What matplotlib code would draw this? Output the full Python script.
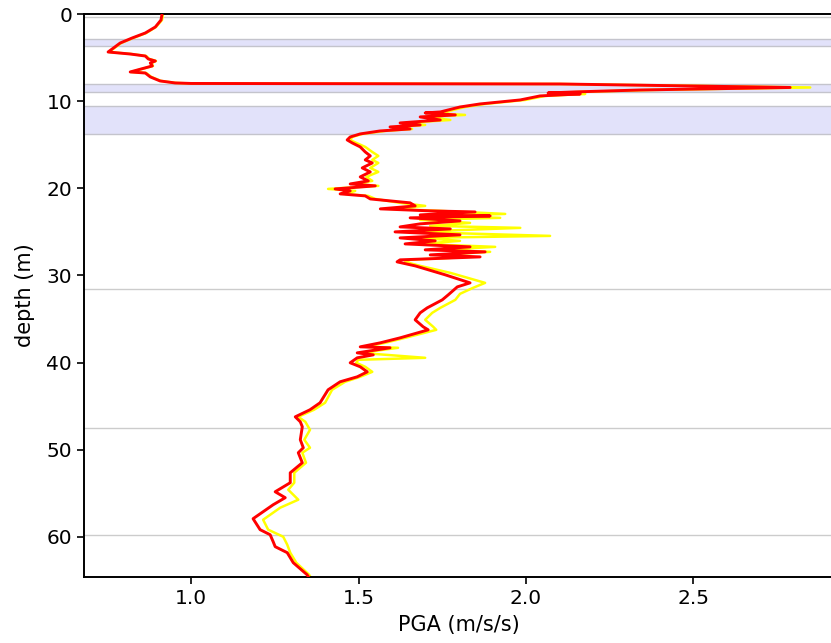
import matplotlib
matplotlib.use("Agg")
import matplotlib.pyplot as plt

# ---- data ----
depth_red = [0.0, 0.69, 1.49, 2.18, 2.75, 3.33, 4.01, 4.36, 4.59, 4.82, 5.16, 5.39, 5.62, 5.96,
             6.65, 6.77, 7.22, 7.68, 7.91, 7.97, 8.03, 8.43, 8.72, 8.94, 9.06, 9.17, 9.40, 9.86,
             10.32, 10.67, 11.24, 11.35, 11.58, 11.81, 12.16, 12.50, 12.73, 12.96, 13.19, 13.42,
             13.76, 14.11, 14.45, 14.79, 15.25, 15.83, 16.28, 16.74, 17.09, 17.66, 18.12, 18.69,
             19.15, 19.50, 19.72, 20.07, 20.30, 20.64, 20.87, 21.22, 21.67, 22.02, 22.36, 22.59,
             22.71, 23.05, 23.17, 23.39, 23.74, 24.08, 24.43, 24.66, 25.00, 25.34, 25.69, 26.03,
             26.38, 26.72, 27.06, 27.29, 27.64, 27.87, 28.21, 28.44, 28.90, 29.93, 30.85, 31.31,
             32.22, 32.80, 33.72, 34.29, 35.09, 35.89, 36.24, 37.16, 37.73, 38.19, 38.30, 38.88,
             39.11, 39.45, 40.02, 40.48, 41.06, 41.63, 42.20, 43.12, 44.61, 45.41, 46.22, 46.79,
             47.36, 48.85, 49.77, 50.34, 51.49, 52.64, 53.78, 54.82, 55.50, 56.31, 57.91, 59.17,
             59.75, 60.55, 61.12, 61.81, 62.96, 64.33, 64.68]
pga_red = [0.913, 0.910, 0.893, 0.863, 0.824, 0.788, 0.764, 0.752, 0.818, 0.863, 0.872, 0.893, 0.878, 0.884,
           0.818, 0.863, 0.878, 0.907, 0.952, 1.000, 2.102, 2.789, 2.341, 2.147, 2.066, 2.162, 2.042, 1.983,
           1.863, 1.803, 1.744, 1.699, 1.789, 1.684, 1.744, 1.624, 1.684, 1.594, 1.654, 1.564,
           1.505, 1.475, 1.466, 1.481, 1.505, 1.520, 1.535, 1.520, 1.541, 1.511, 1.535, 1.505,
           1.529, 1.475, 1.550, 1.430, 1.475, 1.445, 1.520, 1.535, 1.654, 1.669, 1.565, 1.714,
           1.848, 1.684, 1.893, 1.654, 1.803, 1.684, 1.624, 1.774, 1.609, 1.803, 1.624, 1.729,
           1.639, 1.833, 1.699, 1.878, 1.714, 1.863, 1.624, 1.615, 1.669, 1.759, 1.833, 1.795,
           1.768, 1.750, 1.705, 1.684, 1.669, 1.693, 1.708, 1.624, 1.565, 1.505, 1.594, 1.496,
           1.544, 1.496, 1.475, 1.505, 1.526, 1.496, 1.445, 1.409, 1.385, 1.355, 1.311, 1.326,
           1.332, 1.326, 1.335, 1.320, 1.332, 1.296, 1.296, 1.251, 1.281, 1.245, 1.185, 1.206,
           1.236, 1.245, 1.251, 1.287, 1.305, 1.346, 1.352]

depth_yellow = [0.0, 0.69, 1.49, 2.18, 2.75, 3.33, 4.01, 4.36, 4.59, 4.82, 5.16, 5.39, 5.62, 5.96,
                6.65, 6.77, 7.22, 7.68, 7.91, 7.97, 8.03, 8.43, 8.72, 8.94, 9.06, 9.17, 9.40, 9.86,
                10.32, 10.67, 11.24, 11.35, 11.58, 11.81, 12.16, 12.50, 12.73, 12.96, 13.19, 13.42,
                13.76, 14.11, 14.45, 14.79, 15.25, 15.83, 16.28, 16.74, 17.09, 17.66, 18.12, 18.69,
                19.15, 19.50, 19.72, 20.07, 20.30, 20.64, 20.87, 21.22, 21.67, 22.02, 22.36, 22.59,
                22.94, 23.17, 23.39, 23.62, 23.97, 24.31, 24.54, 25.00, 25.46, 25.69, 26.03, 26.38,
                26.72, 27.06, 27.29, 27.64, 27.87, 28.21, 28.44, 28.90, 29.70, 30.85, 31.42, 32.11,
                32.80, 33.72, 34.29, 35.09, 35.89, 36.24, 37.16, 37.73, 38.19, 38.30, 38.88, 39.45,
                39.68, 40.02, 40.48, 41.06, 41.63, 42.20, 43.12, 44.61, 45.41, 46.22, 46.79, 47.71,
                48.85, 49.77, 50.34, 51.49, 52.64, 53.78, 54.59, 55.73, 56.65, 58.03, 59.17, 59.98,
                60.89, 61.81, 62.96, 64.33, 64.68]
pga_yellow = [0.916, 0.913, 0.895, 0.866, 0.827, 0.791, 0.767, 0.755, 0.821, 0.866, 0.875, 0.895, 0.881, 0.886,
              0.821, 0.866, 0.881, 0.910, 0.955, 1.000, 2.102, 2.849, 2.371, 2.162, 2.087, 2.177, 2.057, 1.998,
              1.878, 1.818, 1.759, 1.714, 1.818, 1.699, 1.774, 1.639, 1.699, 1.609, 1.660, 1.579,
              1.511, 1.481, 1.475, 1.493, 1.520, 1.541, 1.559, 1.541, 1.559, 1.535, 1.559, 1.523,
              1.541, 1.490, 1.559, 1.409, 1.490, 1.460, 1.529, 1.550, 1.624, 1.699, 1.594, 1.744,
              1.938, 1.714, 1.923, 1.684, 1.833, 1.714, 1.983, 1.654, 2.072, 1.684, 1.803, 1.684,
              1.908, 1.744, 1.893, 1.744, 1.833, 1.654, 1.639, 1.684, 1.774, 1.878, 1.842, 1.803,
              1.789, 1.744, 1.720, 1.699, 1.723, 1.732, 1.639, 1.579, 1.520, 1.618, 1.505, 1.699,
              1.499, 1.493, 1.520, 1.541, 1.505, 1.460, 1.421, 1.400, 1.367, 1.320, 1.341, 1.355,
              1.338, 1.355, 1.332, 1.343, 1.308, 1.308, 1.290, 1.320, 1.266, 1.215, 1.230, 1.275,
              1.287, 1.296, 1.314, 1.352, 1.358]

layer_lines = [0.4, 31.6, 47.5, 59.75]
layer_bands = [(2.9, 3.7), (8.0, 8.9), (10.55, 13.76)]

x_ticks = [1.0, 1.5, 2.0, 2.5]
y_ticks = [0, 10, 20, 30, 40, 50, 60]

# ---- figure ----
fig = plt.figure(figsize=(8.31, 6.43), dpi=100)
ax = fig.add_axes([84 / 831, 66 / 643, 750 / 831, 563 / 643])

for d0, d1 in layer_bands:
    ax.axhspan(d0, d1, facecolor="#e2e2fa", edgecolor="none", zorder=0)
    ax.axhline(d0, color="#c4c4cc", lw=1.0, zorder=0.5)
    ax.axhline(d1, color="#c4c4cc", lw=1.0, zorder=0.5)
for d in layer_lines:
    ax.axhline(d, color="#cccccc", lw=1.0, zorder=0.5)

ax.plot(pga_yellow, depth_yellow, color="#ffff00", lw=1.8, zorder=2)
ax.plot(pga_red, depth_red, color="#ff0000", lw=2.1, zorder=3)

ax.set_xlim(0.68, 2.92)
ax.set_ylim(64.6, 0)
ax.set_xticks(x_ticks)
ax.set_yticks(y_ticks)
ax.tick_params(labelsize=14.5, width=1.2, length=5)
for s in ax.spines.values():
    s.set_linewidth(1.4)
ax.set_xlabel("PGA (m/s/s)", fontsize=15, labelpad=5)
ax.set_ylabel("depth (m)", fontsize=15, labelpad=8)

fig.savefig("out.png", dpi=100)
